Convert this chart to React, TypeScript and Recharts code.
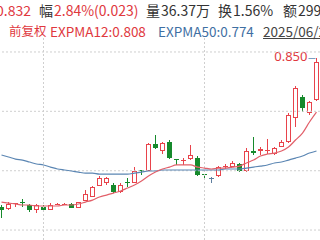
import React from 'react';
import { ComposedChart, Bar, Line, XAxis, YAxis, ReferenceLine } from 'recharts';

const dates = [
  '2025-04-17','2025-04-18','2025-04-21','2025-04-22','2025-04-23','2025-04-24','2025-04-25','2025-04-28','2025-04-29','2025-04-30',
  '2025-05-06','2025-05-07','2025-05-08','2025-05-09','2025-05-12','2025-05-13','2025-05-14','2025-05-15','2025-05-16','2025-05-19',
  '2025-05-20','2025-05-21','2025-05-22','2025-05-23','2025-05-26','2025-05-27','2025-05-28','2025-05-29','2025-05-30','2025-06-03',
  '2025-06-04','2025-06-05','2025-06-06','2025-06-09','2025-06-10','2025-06-11','2025-06-12','2025-06-13','2025-06-16','2025-06-17',
  '2025-06-18','2025-06-19','2025-06-20','2025-06-23','2025-06-24','2025-06-25',
];
const opens = [
  0.729,0.727,0.731,0.733,0.730,0.726,0.729,0.726,0.730,0.730,
  0.731,0.728,0.734,0.737,0.746,0.748,0.747,0.741,0.749,0.748,
  0.759,0.758,0.780,0.774,0.782,0.768,0.766,0.768,0.769,0.756,
  0.752,0.754,0.761,0.761,0.764,0.758,0.774,0.774,0.774,0.772,
  0.778,0.782,0.801,0.818,0.805,0.816,
];
const highs = [
  0.730,0.733,0.732,0.735,0.731,0.731,0.730,0.732,0.732,0.732,
  0.732,0.733,0.743,0.746,0.754,0.753,0.748,0.748,0.752,0.761,
  0.759,0.781,0.787,0.782,0.783,0.768,0.769,0.779,0.770,0.756,
  0.753,0.762,0.764,0.766,0.765,0.777,0.786,0.778,0.784,0.778,
  0.783,0.805,0.827,0.820,0.815,0.850,
];
const lows = [
  0.720,0.726,0.729,0.729,0.725,0.724,0.725,0.726,0.730,0.730,
  0.728,0.728,0.734,0.737,0.746,0.747,0.740,0.740,0.745,0.748,
  0.755,0.758,0.776,0.772,0.768,0.763,0.763,0.767,0.754,0.752,
  0.748,0.753,0.760,0.761,0.757,0.757,0.771,0.771,0.772,0.771,
  0.778,0.781,0.794,0.806,0.804,0.815,
];
const closes = [
  0.726,0.731,0.732,0.732,0.726,0.730,0.726,0.730,0.731,0.731,
  0.728,0.733,0.739,0.745,0.752,0.752,0.741,0.747,0.748,0.758,
  0.758,0.780,0.777,0.781,0.769,0.767,0.767,0.771,0.755,0.755,
  0.752,0.761,0.762,0.765,0.758,0.774,0.773,0.776,0.775,0.777,
  0.782,0.804,0.826,0.809,0.814,0.847,
];
const expma12 = [
  0.7328,0.7320,0.7312,0.7304,0.7304,0.7296,0.7296,0.7296,0.7296,0.7304,
  0.7304,0.7312,0.7328,0.7344,0.7369,0.7385,0.7401,0.7418,0.7442,0.7467,
  0.7499,0.7540,0.7572,0.7597,0.7613,0.7630,0.7630,0.7630,0.7613,0.7605,
  0.7597,0.7605,0.7605,0.7613,0.7621,0.7646,0.7670,0.7703,0.7719,0.7727,
  0.7744,0.7776,0.7833,0.7890,0.7980,0.8061,
];
const expma50 = [
  0.7711,0.7695,0.7678,0.7670,0.7654,0.7638,0.7630,0.7613,0.7597,0.7589,
  0.7581,0.7572,0.7564,0.7564,0.7556,0.7556,0.7556,0.7556,0.7556,0.7564,
  0.7572,0.7581,0.7581,0.7589,0.7589,0.7589,0.7589,0.7589,0.7589,0.7589,
  0.7589,0.7589,0.7597,0.7597,0.7597,0.7605,0.7613,0.7621,0.7630,0.7646,
  0.7654,0.7670,0.7686,0.7703,0.7727,0.7744,
];
const gridPrices = [0.71, 0.7583, 0.8067, 0.855];
const gridDates = ['2025-04-25', '2025-06-03'];
const priceDomain = [0.7019, 0.8672];

// header row 1: each group is [label, value] pairs
const headerRow1 = [
  { label: '', value: '0.832', labelColor: 'gray', valueColor: 'red', left: -4 },
  { label: '幅', value: '2.84%(0.023)', labelColor: 'gray', valueColor: 'red', left: 39 },
  { label: '量', value: '36.37万', labelColor: 'gray', valueColor: 'gray', left: 146 },
  { label: '换', value: '1.56%', labelColor: 'gray', valueColor: 'gray', left: 218 },
  { label: '额', value: '299.8万', labelColor: 'gray', valueColor: 'gray', left: 283 },
];
const headerRow2 = [
  { text: '前复权', color: 'red', left: 9, size: 12.5 },
  { text: 'EXPMA12:0.808', color: 'red', left: 50, size: 13.5 },
  { text: 'EXPMA50:0.774', color: 'blue', left: 158, size: 13.5 },
  { text: '2025/06/25', color: 'date', left: 263, size: 13.5 },
];

const RED = '#e0383e';
const CANDLE_RED = '#e8434b';
const GREEN = '#168a2c';
const FLAT = '#5f7f9f';
const EMA12_COLOR = '#e2606a';
const EMA50_COLOR = '#5b86b3';
const GRID = '#cfcfcf';
const TEXT_COLORS: Record<string, string> = { red: RED, gray: '#333333', blue: '#3f6fa3', date: '#444444' };

const data = dates.map((date, i) => ({
  date,
  open: opens[i],
  high: highs[i],
  low: lows[i],
  close: closes[i],
  ema12: expma12[i],
  ema50: expma50[i],
}));
const maxHigh = Math.max(...highs);

function Candle(props: any) {
  const { x, y, width, height, payload } = props;
  if (x == null || y == null || !payload) return null;
  const top = Math.min(y, y + height);
  const h = Math.abs(height);
  const { open, close, high, low } = payload;
  const span = high - low;
  const py = (p: number) => (span > 0 ? top + ((high - p) / span) * h : top);
  const bl = Math.round(x);
  const bw = Math.max(3, Math.round(width));
  const wx = bl + Math.floor(bw / 2) + 0.5;
  const yHigh = Math.round(top);
  const yLow = Math.round(top + h);
  let bTop = Math.round(py(Math.max(open, close)));
  let bBot = Math.round(py(Math.min(open, close)));
  if (bBot - bTop < 1) bBot = bTop + 1;
  const color = close > open ? CANDLE_RED : close < open ? GREEN : FLAT;
  const els: any[] = [];
  if (close > open) {
    if (bTop > yHigh) els.push(<line key="uw" x1={wx} x2={wx} y1={yHigh} y2={bTop} stroke={color} strokeWidth={1} />);
    if (yLow > bBot) els.push(<line key="lw" x1={wx} x2={wx} y1={bBot} y2={yLow} stroke={color} strokeWidth={1} />);
    if (bBot - bTop <= 1) {
      els.push(<line key="b" x1={bl} x2={bl + bw} y1={bTop + 0.5} y2={bTop + 0.5} stroke={color} strokeWidth={1} />);
    } else {
      els.push(<rect key="b" x={bl + 0.5} y={bTop + 0.5} width={bw - 1} height={bBot - bTop - 1} fill="#ffffff" stroke={color} strokeWidth={1} />);
    }
  } else {
    els.push(<line key="w" x1={wx} x2={wx} y1={yHigh} y2={Math.max(yLow, bBot)} stroke={color} strokeWidth={1} />);
    els.push(<rect key="b" x={bl} y={bTop} width={bw} height={bBot - bTop} fill={color} />);
  }
  if (high === maxHigh) {
    els.push(
      <line key="ll" x1={wx - 8} x2={wx - 1} y1={yHigh + 0.5} y2={yHigh + 0.5} stroke="#7d9ec2" strokeWidth={1} />
    );
    els.push(
      <text key="lt" x={wx - 9} y={yHigh - 2} textAnchor="end" dominantBaseline="central" fontSize={13}
        fontFamily="'Noto Sans', 'DejaVu Sans', sans-serif" fill={RED}>
        {high.toFixed(3)}
      </text>
    );
  }
  return <g>{els}</g>;
}

const font = "'Noto Sans CJK SC', 'Noto Sans', sans-serif";

export default function App() {
  return (
    <div style={{ position: 'absolute', left: 0, top: 0, width: 320, height: 240, overflow: 'hidden', background: '#ffffff' }}>
      <div style={{ position: 'absolute', left: -2, top: 0 }}>
        <ComposedChart width={324} height={240} data={data} margin={{ top: 37, right: 2, bottom: 0, left: 0 }}>
          <XAxis dataKey="date" hide />
          <YAxis hide domain={priceDomain} allowDataOverflow />
          {gridPrices.map((p) => (
            <ReferenceLine key={'h' + p} y={p} stroke={GRID} strokeDasharray="2 2" />
          ))}
          {gridDates.map((d) => (
            <ReferenceLine key={'v' + d} x={d} stroke={GRID} strokeDasharray="2 2" />
          ))}
          <Bar dataKey={(d: any) => [d.low, d.high]} barSize={5} isAnimationActive={false}
            shape={(p: any) => <Candle {...p} />} />
          <Line type="monotone" dataKey="ema50" stroke={EMA50_COLOR} strokeWidth={1.2} dot={false} isAnimationActive={false} />
          <Line type="monotone" dataKey="ema12" stroke={EMA12_COLOR} strokeWidth={1.2} dot={false} isAnimationActive={false} />
        </ComposedChart>
      </div>
      {headerRow1.map((t) => (
        <span key={t.value} style={{ position: 'absolute', top: 1, left: t.left, fontSize: 14, lineHeight: '18px', fontFamily: font, whiteSpace: 'nowrap' }}>
          {t.label ? <span style={{ color: TEXT_COLORS[t.labelColor], marginRight: 1 }}>{t.label}</span> : null}
          <span style={{ color: TEXT_COLORS[t.valueColor] }}>{t.value}</span>
        </span>
      ))}
      {headerRow2.map((t) => (
        <span key={t.text} style={{ position: 'absolute', top: 22, left: t.left, fontSize: t.size, lineHeight: '18px', fontFamily: font, color: TEXT_COLORS[t.color], whiteSpace: 'nowrap', textDecoration: t.color === 'date' ? 'underline' : 'none' }}>
          {t.text}
        </span>
      ))}
    </div>
  );
}
